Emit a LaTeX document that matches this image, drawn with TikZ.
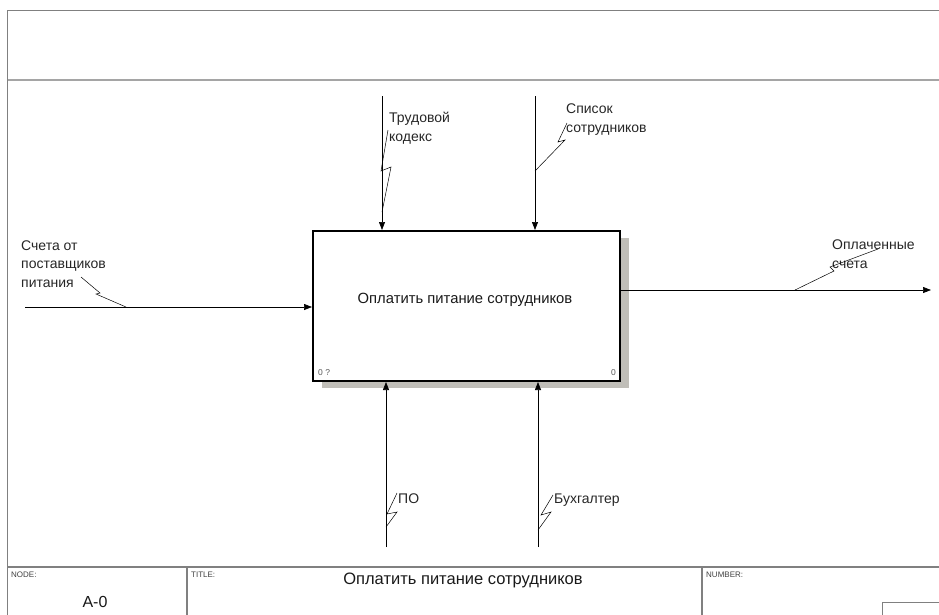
\documentclass[tikz,border=0pt]{standalone}
\usepackage{fontspec}
\setmainfont{Liberation Sans}
\usetikzlibrary{arrows.meta}
\definecolor{framegray}{RGB}{128,128,128}
\definecolor{lightframe}{RGB}{165,165,165}
\definecolor{shadowgray}{RGB}{192,190,184}
\begin{document}
\begin{tikzpicture}[x=1pt,y=-1pt,
  frame/.style={draw=framegray, line width=1.2pt},
  flow/.style={draw=black, line width=0.7pt, -{Triangle[length=8pt,width=6pt]}},
  squig/.style={draw=black, line width=0.5pt},
  lbl/.style={font=\fontsize{14}{18.5}\selectfont, align=left, inner sep=0pt, anchor=base west, text=black!85},
  tiny/.style={font=\fontsize{8}{9}\selectfont, inner sep=0pt, anchor=west, text=black!75},
  corner/.style={font=\fontsize{8.5}{9}\selectfont, inner sep=0pt, text=black!65}]
\useasboundingbox (0,0) rectangle (939,614);
% frame
\draw[frame] (7.5,620) -- (7.5,10.5) -- (945,10.5);
\draw[draw=lightframe, line width=2pt] (7.5,80) -- (945,80);
\draw[frame] (7.5,567) -- (945,567);
\draw[frame] (187,567) -- (187,620);
\draw[frame] (702,567) -- (702,620);
\draw[draw=framegray, line width=0.8pt] (882,620) -- (882,602) -- (945,602);
\node[tiny] (nodelbl) at (11,575) {NODE:};
\node[tiny] (titlelbl) at (191,575) {TITLE:};
\node[tiny] (numlbl) at (706,575) {NUMBER:};
\node[font=\fontsize{16.5}{18}\selectfont, inner sep=0pt, text=black!90] (title) at (463,580) {Оплатить питание сотрудников};
\node[font=\fontsize{16}{18}\selectfont, inner sep=0pt, text=black!90] (nodeid) at (95,602) {A-0};
% activity box
\node[fill=shadowgray, minimum width=307pt, minimum height=150pt, inner sep=0pt] (shadow) at (475,313) {};
\node[draw=black, line width=2pt, fill=white, minimum width=307pt, minimum height=150pt, inner sep=0pt] (act) at (466.5,306) {};
\node[font=\fontsize{14.8}{16}\selectfont, inner sep=0pt, text=black!90] (actlbl) at (465,300) {Оплатить питание сотрудников};
\node[corner, anchor=west] (num1) at (318,373) {0 ?};
\node[corner, anchor=east] (num2) at (616,373) {0};
% free ends
\coordinate (c1) at (382,96);
\coordinate (c2) at (535,96);
\coordinate (m1) at (386,547);
\coordinate (m2) at (538,547);
\coordinate (i1) at (25,307);
\coordinate (o1) at (931,290);
% arrows
\draw[flow] (c1) -- (c1 |- act.north);
\draw[flow] (c2) -- (c2 |- act.north);
\draw[flow] (m1) -- (m1 |- act.south);
\draw[flow] (m2) -- (m2 |- act.south);
\draw[flow] (i1) -- (i1 -| act.west);
\draw[flow] (act.east |- o1) -- (o1);
% labels (anchor = baseline of last line)
\node[lbl] (l1) at (389,141) {Трудовой\\кодекс};
\node[lbl] (l2) at (566,132) {Список\\сотрудников};
\node[lbl] (l3) at (21,287) {Счета от\\поставщиков\\питания};
\node[lbl] (l4) at (832,268) {Оплаченные\\счета};
\node[lbl] (l5) at (398,503) {ПО};
\node[lbl] (l6) at (554,503) {Бухгалтер};
% squiggles
\draw[squig] (388,130) -- (381,171) -- (391,167) -- (382,212);
\draw[squig] (567,123) -- (558,142) -- (565,140) -- (535,171);
\draw[squig] (81,277) -- (100,293) -- (96,294) -- (126,307);
\draw[squig] (878,249) -- (830,267) -- (834,271) -- (795,290);
\draw[squig] (397,493) -- (387,514) -- (397,512) -- (386,527);
\draw[squig] (553,495) -- (541,515) -- (551,512) -- (538,530);
\end{tikzpicture}
\end{document}
